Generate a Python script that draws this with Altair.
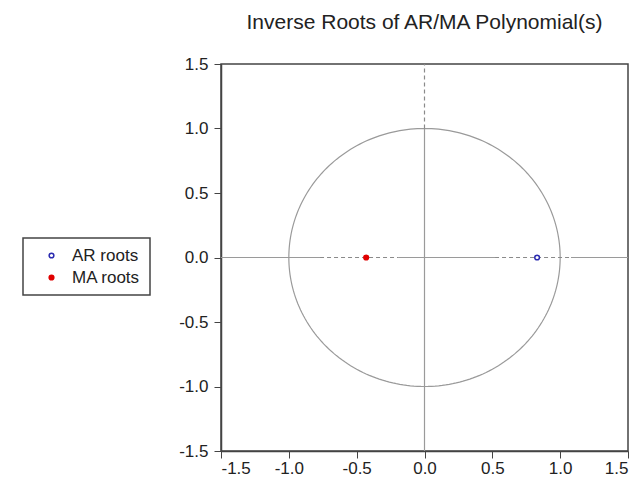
import altair as alt
import numpy as np
import pandas as pd

# Roots (inverse)
series = ["AR roots", "MA roots"]
root_re = [0.83, -0.43]
root_im = [0.0, 0.0]

# Axis ticks
ticks = [-1.5, -1.0, -0.5, 0.0, 0.5, 1.0, 1.5]

# Reference line segments (x1, x2, y1, y2, style)
seg_x1 = [-1.5, -0.77, -0.19, 0.52, 1.08, 0.0, 0.0]
seg_x2 = [-0.77, -0.19, 0.52, 1.08, 1.5, 0.0, 0.0]
seg_y1 = [0.0, 0.0, 0.0, 0.0, 0.0, -1.5, 1.0]
seg_y2 = [0.0, 0.0, 0.0, 0.0, 0.0, 1.0, 1.5]
seg_style = ["solid", "dashed", "solid", "dashed", "solid", "solid", "dashed"]

# Unit circle reference
theta = np.linspace(0, 2 * np.pi, 241)
circle = pd.DataFrame({"x": np.cos(theta), "y": np.sin(theta), "o": np.arange(len(theta))})

roots = pd.DataFrame({"series": series, "re": root_re, "im": root_im})
segs = pd.DataFrame({"x1": seg_x1, "x2": seg_x2, "y1": seg_y1, "y2": seg_y2, "style": seg_style})

FONT = "Liberation Sans"
LBL = "(datum.value < 0 ? '-' : '') + format(abs(datum.value), '.1f')"
xs = alt.Scale(domain=[-1.5, 1.5], nice=False, zero=False)
ys = alt.Scale(domain=[-1.5, 1.5], nice=False, zero=False)
xaxis = alt.Axis(values=ticks, labelExpr=LBL, title=None, grid=False, labelPadding=2)
yaxis = alt.Axis(values=ticks, labelExpr=LBL, title=None, grid=False, labelPadding=6)

circ = alt.Chart(circle).mark_line(color="#9a9a9a", strokeWidth=1.2).encode(
    x=alt.X("x:Q", scale=xs, axis=xaxis),
    y=alt.Y("y:Q", scale=ys, axis=yaxis),
    order="o:Q",
)

solid = alt.Chart(segs).transform_filter(alt.datum.style == "solid").mark_rule(
    color="#9a9a9a", strokeWidth=1.2
).encode(x="x1:Q", x2="x2:Q", y="y1:Q", y2="y2:Q")

dashed = alt.Chart(segs).transform_filter(alt.datum.style == "dashed").mark_rule(
    color="#8a8a8a", strokeWidth=1.2, strokeDash=[4, 3]
).encode(x="x1:Q", x2="x2:Q", y="y1:Q", y2="y2:Q")

pts = alt.Chart(roots).mark_point(size=22, strokeWidth=1.5, opacity=1).encode(
    x="re:Q",
    y="im:Q",
    stroke=alt.Stroke("series:N", scale=alt.Scale(domain=series, range=["#2b2bb0", "#e00000"]),
                      legend=alt.Legend(title=None)),
    fill=alt.Fill("series:N", scale=alt.Scale(domain=series, range=["#ffffff", "#e00000"]),
                  legend=alt.Legend(title=None)),
)

chart = alt.layer(circ, solid, dashed, pts).properties(
    width=407,
    height=387,
    title=alt.TitleParams("Inverse Roots of AR/MA Polynomial(s)", font=FONT, fontSize=21,
                          fontWeight="normal", color="#222222", offset=22, anchor="middle"),
    autosize=alt.AutoSizeParams(type="none"),
    padding={"left": 221, "top": 64, "right": 13, "bottom": 30},
).configure_view(
    stroke="#444444", strokeWidth=1.5
).configure_axis(
    labelFont=FONT, labelFontSize=17, labelColor="#222222",
    domainColor="#444444", domainWidth=1.5, tickColor="#444444", tickSize=7,
).configure_legend(
    orient="none", legendX=-198, legendY=174,
    labelFont=FONT, labelFontSize=17, labelColor="#222222",
    strokeColor="#444444", strokeWidth=1.5, padding=9,
    symbolSize=22, symbolStrokeWidth=1.5, rowPadding=4, labelOffset=12, symbolOffset=11,
)

chart.save("out.html", embed_options={"renderer": "svg", "actions": False})
